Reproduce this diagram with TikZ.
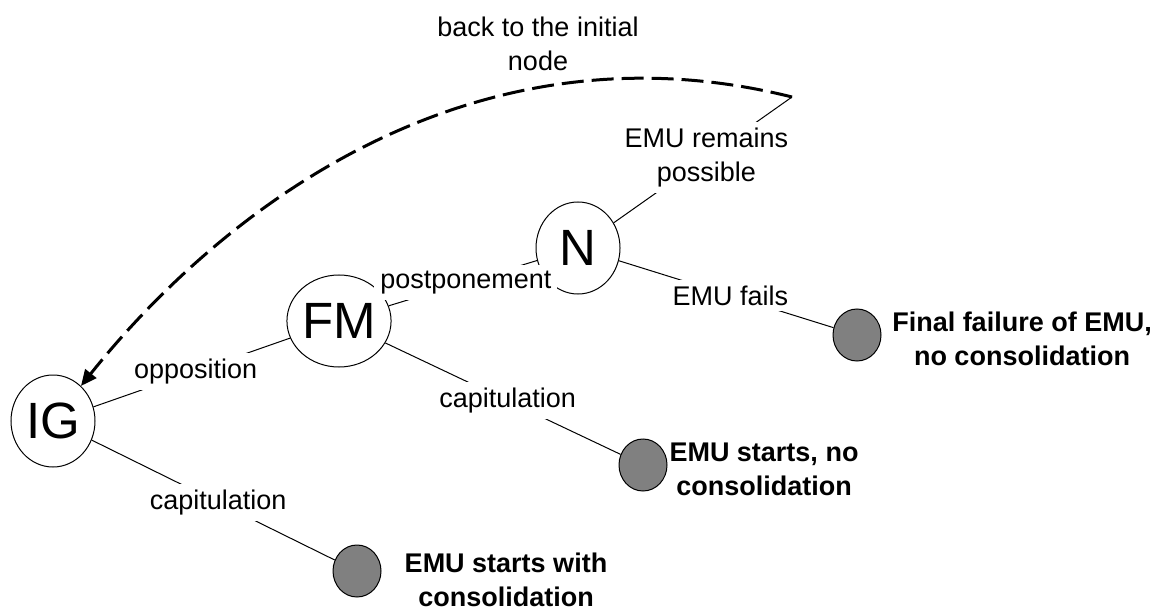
\documentclass[tikz,border=0pt]{standalone}
\usepackage{fontspec}
\setmainfont{Liberation Sans}
\usetikzlibrary{shapes.geometric,arrows.meta}
\definecolor{leafgray}{RGB}{128,128,128}

\begin{document}
\begin{tikzpicture}
[x=0.5pt,y=-0.5pt,
  stateDecorate/.style={shape=ellipse,draw,line width=0.5pt,inner sep=0pt,%
    minimum width=42pt,minimum height=46pt,font=\fontsize{25.5}{30}\selectfont},
  leafDecorate/.style={shape=ellipse,draw,line width=0.5pt,fill=leafgray,%
    inner sep=0pt,minimum width=24pt,minimum height=26pt},
  outcomeDecorate/.style={align=center,inner sep=0pt,%
    font=\bfseries\fontsize{13.5}{17}\selectfont},
  lineDecorate/.style={-,line width=0.5pt},
  labelDecorate/.style={fill=white,inner sep=3pt,pos=0.52,align=center,%
    font=\fontsize{13.5}{17}\selectfont},
  returnDecorate/.style={-{Triangle[length=8pt,width=7pt]},line width=1.5pt,%
    dash pattern=on 11pt off 4pt}]
\useasboundingbox (0,0) rectangle (1154,614);
%% decision nodes
\foreach \nodename/\x/\y in {
  IG/53/421, FM/339/321, N/578/248}
{
  \node (\nodename) at (\x,\y) [stateDecorate] {\nodename};
}
%% end nodes
\foreach \nodename/\x/\y in {
  fail/857/335, nocons/643/465, cons/357/571}
{
  \node (\nodename) at (\x,\y) [leafDecorate] {};
}
\coordinate (turn) at (792,97);
%% outcomes
\node (failtext) at (1022,339) [outcomeDecorate] {Final failure of EMU,\\no consolidation};
\node (noconstext) at (764,469) [outcomeDecorate] {EMU starts, no\\consolidation};
\node (constext) at (506,580) [outcomeDecorate] {EMU starts with\\consolidation};
%% edges or lines
\path
\foreach \startnode/\endnode/\edgetext in {
  IG/FM/opposition, IG/cons/capitulation, FM/N/postponement,
  FM/nocons/capitulation, N/fail/EMU fails, N/turn/{EMU remains\\possible}}
{
  (\startnode) edge[lineDecorate] node[labelDecorate] {\edgetext} (\endnode)
};
%% way back
\draw[returnDecorate] (turn) .. controls (472,17) and (223,208) .. (IG);
\node (backtext) at (538,44) [outcomeDecorate,font=\fontsize{13.5}{17}\selectfont] {back to the initial\\node};
\end{tikzpicture}
\end{document}
